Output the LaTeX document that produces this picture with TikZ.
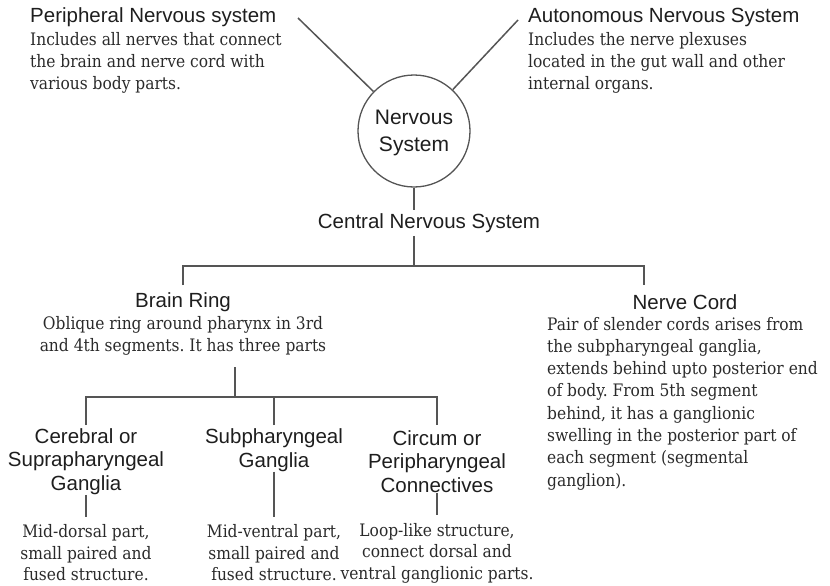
\documentclass[tikz,border=0pt]{standalone}
\usepackage{fontspec}
\setmainfont{DejaVu Serif Condensed}
\newfontfamily\headfont{Liberation Sans}
\definecolor{linegray}{HTML}{555555}
\definecolor{inkdark}{HTML}{1E1E1E}
\definecolor{inkbody}{HTML}{2A2A2A}
\frenchspacing
\begin{document}
\begin{tikzpicture}[x=1pt,y=-1pt,
  link/.style={draw=linegray, line width=1.5pt},
  head/.style={font=\headfont\fontsize{20.5}{23.5}\selectfont, text=inkdark, inner sep=0pt, align=center},
  body/.style={font=\fontsize{17.2}{22.3}\selectfont, text=inkbody, inner sep=0pt},
  leaf/.style={font=\fontsize{17.2}{21.5}\selectfont, text=inkbody, inner xsep=0pt, inner ysep=8pt, align=center},
  hub/.style={circle, draw=linegray, line width=1.3pt, minimum size=112pt, inner sep=0pt,
    font=\headfont\fontsize{21}{27}\selectfont, text=inkdark, align=center, text depth=0pt}]
\useasboundingbox (0,0) rectangle (830,586);

% central hub and the two outer systems
\node[hub] (ns) at (414,131) {Nervous\\System};
\node[head, anchor=west] (pnsh) at (30,17) {Peripheral Nervous system};
\node[body, anchor=west, align=left] (pnsb) at (30,63) {Includes all nerves that connect\\the brain and nerve cord with\\various body parts.};
\node[head, anchor=west] (ansh) at (528,17) {Autonomous Nervous System};
\node[body, anchor=west, align=left] (ansb) at (528,63) {Includes the nerve plexuses\\located in the gut wall and other\\internal organs.};
\coordinate (pnsend) at (298,18);
\coordinate (ansend) at (518,20);
\draw[link] (ns) -- (pnsend);
\draw[link] (ns) -- (ansend);

% central nervous system
\node[head, inner ysep=3pt] (cns) at (429,223) {Central Nervous System};
\coordinate (bar) at (414,266);
\draw[link] (ns.south) -- (ns.south |- cns.north);
\draw[link] (ns.south |- cns.south) -- (bar);

% brain ring and nerve cord
\node[head] (brh) at (183,302) {Brain Ring};
\node[body, align=center] (brb) at (183,336) {Oblique ring around pharynx in 3rd\\and 4th segments. It has three parts};
\node[head] (nch) at (685,302) {Nerve Cord};
\node[body, anchor=west, align=left] (ncb) at (547,403.5) {Pair of slender cords arises from\\the subpharyngeal ganglia,\\extends behind upto posterior end\\of body. From 5th segment\\behind, it has a ganglionic\\swelling in the posterior part of\\each segment (segmental\\ganglion).};
\coordinate (brdrop) at (183,285);
\coordinate (ncdrop) at (644,285);
\draw[link] (brdrop) |- (bar) -| (ncdrop);

% the three parts of the brain ring
\coordinate (brstem) at (235,367);
\coordinate (junction) at (235,397);
\draw[link] (brstem) -- (junction);
\coordinate (cerdrop) at (86,425);
\coordinate (subdrop) at (274,425);
\coordinate (cirdrop) at (437,425);
\draw[link] (cerdrop) |- (junction) -| (cirdrop);
\draw[link] (subdrop) -- (subdrop |- junction);

\node[head] (cerh) at (86,461.5) {Cerebral or\\Suprapharyngeal\\Ganglia};
\node[head] (subh) at (274,450) {Subpharyngeal\\Ganglia};
\node[head] (cirh) at (437,461.5) {Circum or\\Peripharyngeal\\Connectives};

\node[leaf] (cerb) at (86,553) {Mid-dorsal part,\\small paired and\\fused structure.};
\node[leaf] (subb) at (274,553) {Mid-ventral part,\\small paired and\\fused structure.};
\node[leaf] (cirb) at (437,553) {Loop-like structure,\\connect dorsal and\\ventral ganglionic parts.};

\draw[link] (cerh.south) -- (cerb.north);
\draw[link] (subh.south) -- (subb.north);
\draw[link] (cirh.south) -- (cirb.north);
\end{tikzpicture}
\end{document}
